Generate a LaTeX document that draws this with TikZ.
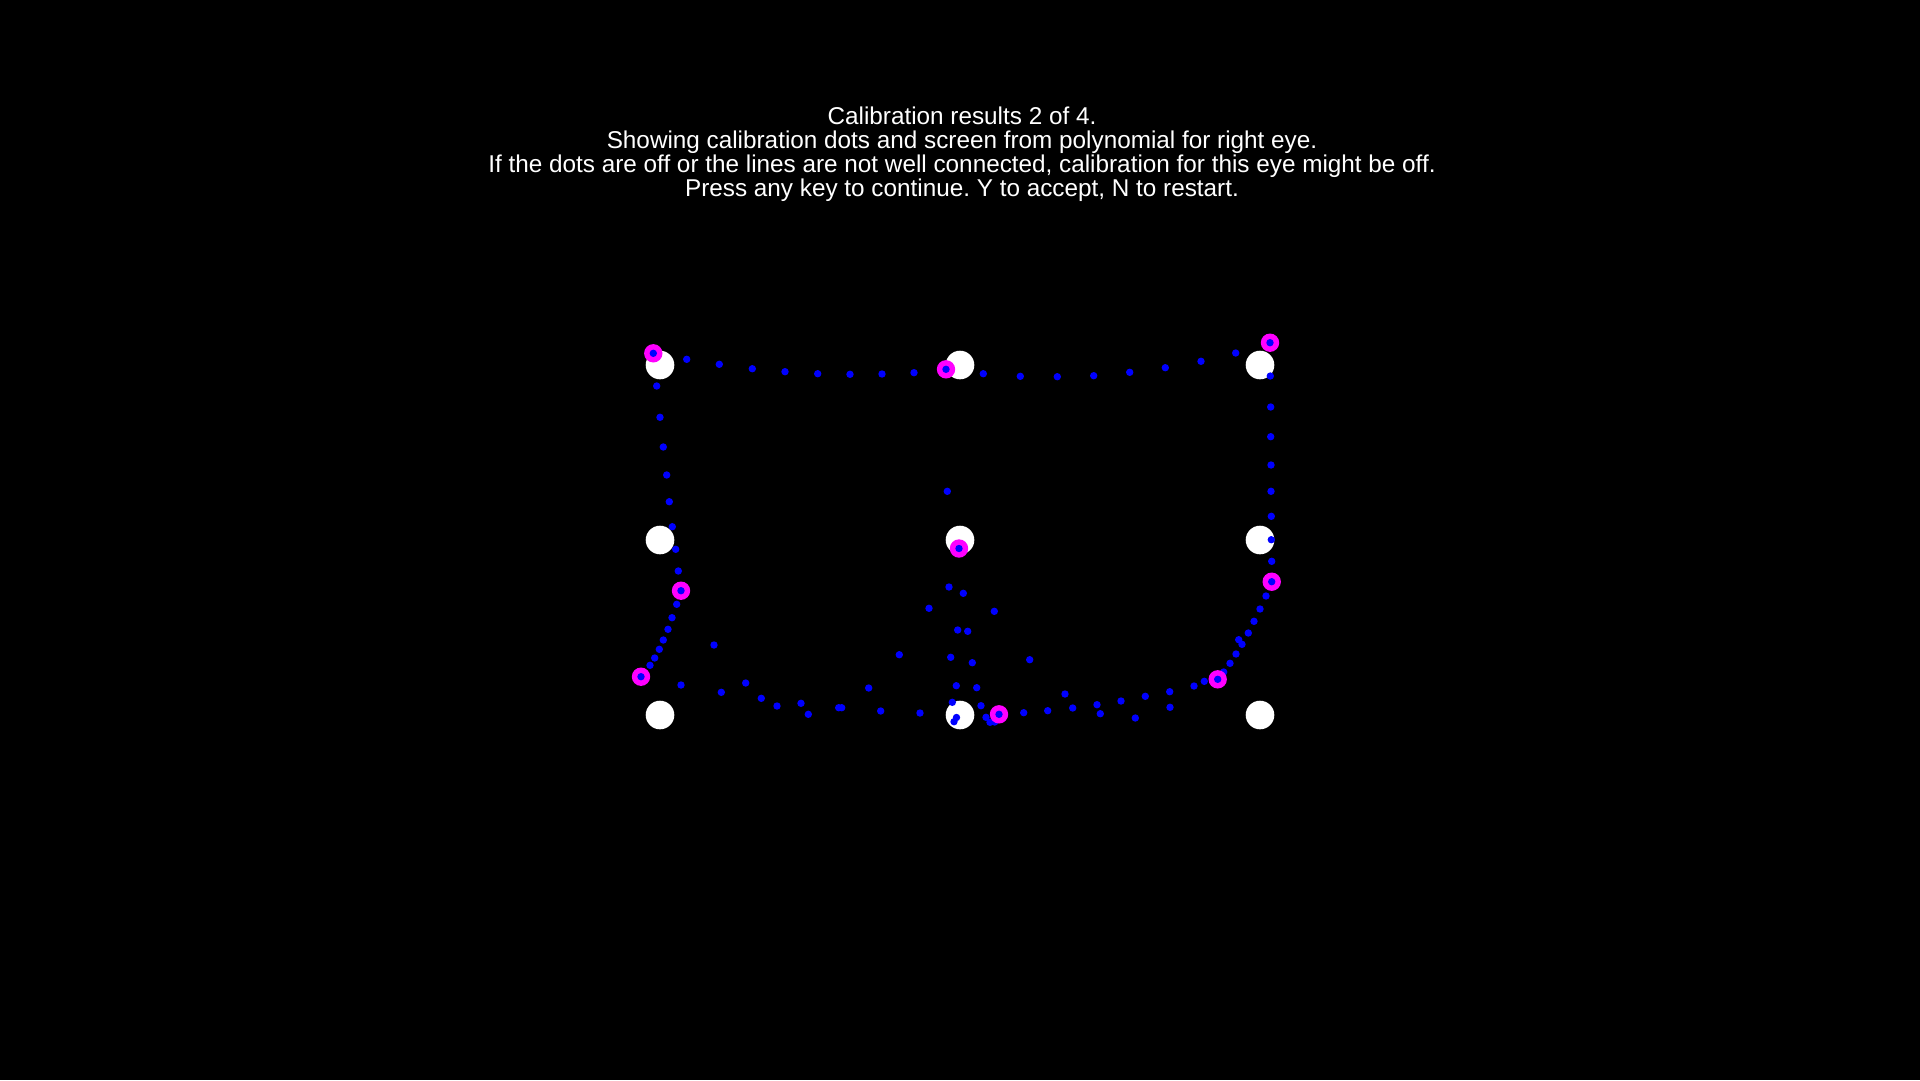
\documentclass[tikz,border=0pt]{standalone}
\usepackage{fontspec}
\setmainfont{Liberation Sans}
\definecolor{samplecol}{RGB}{255,0,255}
\definecolor{gazecol}{RGB}{0,0,255}

\begin{document}
\begin{tikzpicture}[x=1pt,y=-1pt,
   target/.style={fill=white},
   sample/.style={fill=samplecol},
   gaze/.style={fill=gazecol}]
   \fill[black] (0,0) rectangle (1920,1080);
   \useasboundingbox (0,0) rectangle (1920,1080);
   \node[text=white,align=center,inner sep=0,anchor=north,
     font=\fontsize{24.3}{24}\selectfont\frenchspacing] (msg) at (962,106.5)
     {Calibration results 2 of 4.\\
      Showing calibration dots and screen from polynomial for right eye.\\
      If the dots are off or the lines are not well connected, calibration for this eye might be off.\\
      Press any key to continue. Y to accept, N to restart.};
   % calibration targets
   \foreach \x in {660,960,1260}
     \foreach \y in {365,540,715}
       \fill[target] (\x,\y) circle (14.3);
   % screen from polynomial
   \foreach \x/\y in {686.7/359.3,719.3/364.3,752.3/368.7,785/371.7,817.7/373.7,850/374.3,882/374,914/372.7,
       983.3/373.7,1020.3/376.3,1057.3/376.7,1093.7/375.7,1129.7/372.3,1165.3/367.7,1201/361.3,1235.7/353,
       656.7/386,660/417.3,663.3/447,666.7/475,669.3/501.7,672.3/526.7,675.7/549.3,678.3/571,
       676.7/604.3,672/617.7,668/629.3,663.3/640,659.3/649.3,654.7/658,650/665.3,
       1270.3/376,1270.7/407,1270.7/436.7,1271/465,1271/491.3,1271.3/516.3,1271.3/539.7,1271.7/561.3,
       1266/596,1260/609,1254/621.3,1248.3/633,1238.7/639.7,1242/644.3,1236/654,1230/663.3,1223.7/672,
       1204.3/681.3,1194/686,1170/707.3,1169.7/691.7,1145.3/696.3,1135.3/718,1121/701,1100.3/713.7,
       1097/704.7,1072.7/708,1065/694,1047.7/710.7,1023.7/712.7,
       681/685,714/645,721.3/692.3,745.7/683,761.3/698.3,777/706,801/703.3,808.3/714.3,838.7/707.7,
       841.7/707.7,868.7/688,880.7/711,899.3/654.7,920/713,929/608.3,
       947.3/491.3,949/587,963.3/593.3,994.3/611.3,957.7/630,967.7/631.3,950.7/657.3,972.3/662.7,
       1029.7/659.7,956.3/685.7,976.7/687.7,952.3/702.3,981/705.7,986/717.3,990/722.3,994.7/722,
       954/721.7,956.5/717.5}
     \fill[gaze] (\x,\y) circle (3.7);
   % calibration dots
   \foreach \x/\y in {653.3/353.3,946/369.3,1270/342.7,959/548.5,681/590.7,641/676.7,
       1271.7/581.7,1217.7/679.3,999/714.3}
     {\fill[sample] (\x,\y) circle (9.2);
      \fill[gaze] (\x,\y) circle (3.7);}
\end{tikzpicture}
\end{document}
